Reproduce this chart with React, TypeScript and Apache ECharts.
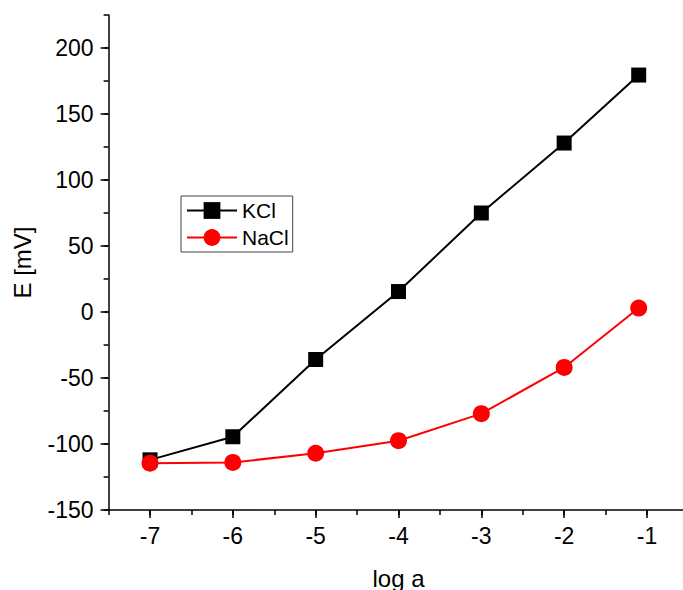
import React, { useEffect, useRef } from "react";
import * as echarts from "echarts";

const logA = [-7, -6, -5, -4, -3, -2, -1.1];
const kclValues = [-112, -94.5, -36, 15.5, 75, 128, 179.5];
const naclValues = [-114.5, -114, -107, -97.5, -77, -42, 3];
const seriesNames = ["KCl", "NaCl"];
const xTitle = "log a";
const yTitle = "E [mV]";

export default function App() {
  const ref = useRef<HTMLDivElement>(null);
  useEffect(() => {
    if (!ref.current) return;
    const chart = echarts.init(ref.current, undefined, { renderer: "svg" });
    const font = "Liberation Sans, Arial, sans-serif";
    const axisLine = { show: true, onZero: false, lineStyle: { color: "#000", width: 1.5 } };
    const gLeft = 108.6;
    const gWidth = 579.8;
    const gTop = 15;
    const gBottom = 80;
    chart.setOption({
      animation: false,
      backgroundColor: "#fff",
      textStyle: { fontFamily: font },
      grid: [
        { left: gLeft, top: gTop, width: gWidth, bottom: gBottom, outerBoundsMode: "none", containLabel: false },
        { left: 150, top: gTop, width: 497, bottom: gBottom, outerBoundsMode: "none", containLabel: false },
        { left: gLeft, top: 48, width: gWidth, bottom: gBottom, outerBoundsMode: "none", containLabel: false },
      ],
      legend: {
        orient: "vertical",
        left: 181,
        top: 196,
        data: seriesNames,
        borderColor: "#444",
        borderWidth: 1,
        padding: [4, 4, 4, 5],
        itemGap: 6,
        itemWidth: 50,
        itemHeight: 21,
        textStyle: { fontSize: 21, color: "#000", fontFamily: font },
      },
      xAxis: [
        {
          type: "value",
          gridIndex: 0,
          min: -7.5,
          max: -0.5,
          interval: 0.5,
          name: xTitle,
          nameLocation: "middle",
          nameGap: 56,
          nameTextStyle: { fontSize: 24, color: "#000", fontFamily: font },
          axisLine,
          axisTick: { show: true, inside: false, length: 5, lineStyle: { color: "#000", width: 1.5 } },
          axisLabel: {
            fontSize: 23,
            color: "#000",
            margin: 14,
            fontFamily: font,
            formatter: (v: number) => (Math.abs(v - Math.round(v)) < 1e-6 && v >= -7 && v <= -1 ? String(Math.round(v)) : ""),
          },
          splitLine: { show: false },
        },
        {
          type: "value",
          gridIndex: 1,
          min: -7,
          max: -1,
          interval: 1,
          axisLine: { show: false, onZero: false },
          axisTick: { show: true, length: 8, lineStyle: { color: "#000", width: 1.5 } },
          axisLabel: { show: false },
          splitLine: { show: false },
        },
        {
          type: "value",
          gridIndex: 2,
          min: -7.5,
          max: -0.5,
          show: false,
        },
      ],
      yAxis: [
        {
          type: "value",
          gridIndex: 0,
          min: -150,
          max: 225,
          interval: 25,
          name: yTitle,
          nameLocation: "middle",
          nameGap: 74,
          nameRotate: 90,
          nameTextStyle: { fontSize: 24, color: "#000", fontFamily: font },
          axisLine,
          axisTick: { show: true, length: 5, lineStyle: { color: "#000", width: 1.5 } },
          axisLabel: {
            fontSize: 23,
            color: "#000",
            margin: 15,
            fontFamily: font,
            formatter: (v: number) => (v % 50 === 0 && v <= 200 ? String(v) : ""),
          },
          splitLine: { show: false },
        },
        {
          type: "value",
          gridIndex: 1,
          min: -150,
          max: 225,
          show: false,
        },
        {
          type: "value",
          gridIndex: 2,
          min: -150,
          max: 200,
          interval: 50,
          axisLine: { show: false, onZero: false },
          axisTick: { show: true, length: 8, lineStyle: { color: "#000", width: 1.5 } },
          axisLabel: { show: false },
          splitLine: { show: false },
        },
      ],
      series: [
        {
          name: seriesNames[0],
          type: "line",
          xAxisIndex: 0,
          yAxisIndex: 0,
          data: logA.map((x, i) => [x, kclValues[i]]),
          symbol: "rect",
          symbolSize: 15,
          showAllSymbol: true,
          itemStyle: { color: "#000" },
          lineStyle: { color: "#000", width: 2 },
        },
        {
          name: seriesNames[1],
          type: "line",
          xAxisIndex: 0,
          yAxisIndex: 0,
          data: logA.map((x, i) => [x, naclValues[i]]),
          symbol: "circle",
          symbolSize: 17,
          showAllSymbol: true,
          itemStyle: { color: "#ff0000" },
          lineStyle: { color: "#ff0000", width: 2 },
        },
      ],
    });
    return () => chart.dispose();
  }, []);
  return (
    <div style={{ position: "fixed", left: 0, top: 0, width: 683, height: 590, overflow: "hidden", background: "#fff" }}>
      <div ref={ref} style={{ width: 700, height: 590 }} />
    </div>
  );
}
